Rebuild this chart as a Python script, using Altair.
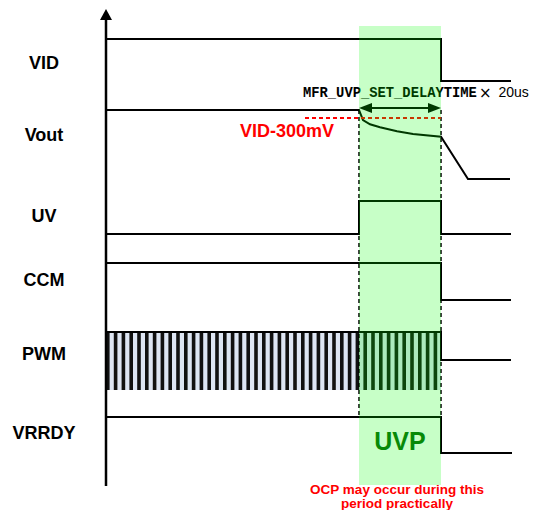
import altair as alt
import pandas as pd

# ---- signal labels ----
sig_names = ["VID", "Vout", "UV", "CCM", "PWM", "VRRDY"]
label_x = [44, 44, 44, 44, 44, 44]
label_y = [64, 136, 217, 281, 355, 434]

# ---- waveforms (time position, level) ----
vid_x = [106, 441, 441, 511]
vid_y = [39, 39, 81, 81]
vout_x = [106, 359, 363, 370, 380, 397, 413, 441, 468, 510]
vout_y = [110, 110, 120, 124.3, 127.3, 131.3, 134, 136.7, 179, 179]
uv_x = [106, 359, 359, 441, 441, 511]
uv_y = [234, 234, 201, 201, 234, 234]
ccm_x = [106, 441, 441, 511]
ccm_y = [263, 263, 300, 300]
pwm_x = [106, 441, 441, 511]
pwm_y = [332, 332, 360, 360]
vrrdy_x = [106, 441, 441, 512]
vrrdy_y = [417, 417, 453, 453]

# ---- events ----
t_fault = 359
t_uvp = 441
band_top, band_bottom = 26, 485
pwm_block = [106, 441, 332, 390]   # x, x2, y, y2
axis_x, axis_top, axis_bottom = 106, 9, 486
dash_top, dash_bottom = 110, 417
thr_y, thr_x0 = 118, 305
arrow_y = 108

xs = alt.Scale(domain=[8, 530], nice=False, zero=False)
ys = alt.Scale(domain=[8, 510], nice=False, zero=False, reverse=True)


def X(f):
    return alt.X(f, type="quantitative", scale=xs, axis=None)


def Y(f):
    return alt.Y(f, type="quantitative", scale=ys, axis=None)


rows = []
for name, xx, yy in [("VID", vid_x, vid_y), ("Vout", vout_x, vout_y),
                     ("UV", uv_x, uv_y), ("CCM", ccm_x, ccm_y),
                     ("PWM", pwm_x, pwm_y), ("VRRDY", vrrdy_x, vrrdy_y)]:
    for i, (a, b) in enumerate(zip(xx, yy)):
        rows.append({"sig": name, "i": i, "x": a, "y": b})
wave_df = pd.DataFrame(rows)

# PWM striped block
pwm_bg = alt.Chart(pd.DataFrame([{"x": pwm_block[0], "x2": pwm_block[1],
                                  "y": pwm_block[2], "y2": pwm_block[3]}])).mark_rect(
    color="#dde5f3").encode(x=X("x"), x2="x2", y=Y("y"), y2="y2")
pwm_stripes = alt.Chart(pd.DataFrame([{"x": pwm_block[0], "x2": pwm_block[1],
                                       "y": (pwm_block[2] + pwm_block[3]) / 2}])).mark_rule(
    color="#111111", strokeWidth=pwm_block[3] - pwm_block[2], strokeDash=[3.6, 4.2],
    strokeCap="butt").encode(x=X("x"), x2="x2", y=Y("y"))

waves = alt.Chart(wave_df).mark_line(color="black", strokeWidth=2, interpolate="linear").encode(
    x=X("x"), y=Y("y"), detail="sig:N", order="i:Q")

dashed = alt.Chart(pd.DataFrame([{"x": t_fault, "y": dash_top, "y2": dash_bottom},
                                 {"x": t_uvp, "y": dash_top, "y2": dash_bottom}])).mark_rule(
    color="black", strokeWidth=1.5, strokeDash=[4, 3]).encode(x=X("x"), y=Y("y"), y2="y2")

thr = alt.Chart(pd.DataFrame([{"x": thr_x0, "x2": t_uvp, "y": thr_y}])).mark_rule(
    color="#ff0000", strokeWidth=2, strokeDash=[4, 3]).encode(x=X("x"), x2="x2", y=Y("y"))

arrow_line = alt.Chart(pd.DataFrame([{"x": t_fault + 6, "x2": t_uvp - 6, "y": arrow_y}])).mark_rule(
    color="black", strokeWidth=2).encode(x=X("x"), x2="x2", y=Y("y"))
head_r = alt.Chart(pd.DataFrame([{"x": t_uvp, "y": arrow_y}])).mark_point(
    shape="M0,0L-2,-0.77L-2,0.77Z", size=169, filled=True, color="black", opacity=1,
    strokeWidth=0).encode(x=X("x"), y=Y("y"))
head_l = alt.Chart(pd.DataFrame([{"x": t_fault, "y": arrow_y}])).mark_point(
    shape="M0,0L2,-0.77L2,0.77Z", size=169, filled=True, color="black", opacity=1,
    strokeWidth=0).encode(x=X("x"), y=Y("y"))

mfr_text = alt.Chart(pd.DataFrame([{"x": 303, "y": 93, "t": "MFR_UVP_SET_DELAYTIME"}])).mark_text(
    font="Liberation Mono", fontWeight="bold", fontSize=13.8, align="left", baseline="middle",
    color="black").encode(x=X("x"), y=Y("y"), text="t:N")
times_text = alt.Chart(pd.DataFrame([{"x": 479, "y": 93, "t": "×"}])).mark_text(
    font="DejaVu Sans", fontSize=15, align="left", baseline="middle",
    color="black").encode(x=X("x"), y=Y("y"), text="t:N")
us_text = alt.Chart(pd.DataFrame([{"x": 498.5, "y": 93, "t": "20us"}])).mark_text(
    font="Liberation Sans", fontSize=14, align="left", baseline="middle",
    color="black").encode(x=X("x"), y=Y("y"), text="t:N")

band = alt.Chart(pd.DataFrame([{"x": t_fault, "x2": t_uvp, "y": band_top, "y2": band_bottom}])).mark_rect(
    color="#00ff00", opacity=0.22).encode(x=X("x"), x2="x2", y=Y("y"), y2="y2")

axis_line = alt.Chart(pd.DataFrame([{"x": axis_x, "y": axis_top + 8, "y2": axis_bottom}])).mark_rule(
    color="black", strokeWidth=2.5).encode(x=X("x"), y=Y("y"), y2="y2")
axis_head = alt.Chart(pd.DataFrame([{"x": axis_x, "y": axis_top}])).mark_point(
    shape="M0,0L-1.09,2L1.09,2Z", size=121, filled=True, color="black", opacity=1,
    strokeWidth=0).encode(x=X("x"), y=Y("y"))

labels = alt.Chart(pd.DataFrame({"x": label_x, "y": label_y, "t": sig_names})).mark_text(
    font="Liberation Sans", fontWeight="bold", fontSize=18, align="center", baseline="middle",
    color="black").encode(x=X("x"), y=Y("y"), text="t:N")

vid300 = alt.Chart(pd.DataFrame([{"x": 287, "y": 132, "t": "VID-300mV"}])).mark_text(
    font="Liberation Sans", fontWeight="bold", fontSize=18, align="center", baseline="middle",
    color="#ff0000").encode(x=X("x"), y=Y("y"), text="t:N")

uvp = alt.Chart(pd.DataFrame([{"x": 400, "y": 442, "t": "UVP"}])).mark_text(
    font="Liberation Sans", fontWeight="bold", fontSize=25, align="center", baseline="middle",
    color="#078a07").encode(x=X("x"), y=Y("y"), text="t:N")

ocp = alt.Chart(pd.DataFrame({"x": [397, 397], "y": [490, 504],
                              "t": ["OCP may occur during this", "period practically"]})).mark_text(
    font="Liberation Sans", fontWeight="bold", fontSize=13.5, align="center", baseline="middle",
    color="#ff0000").encode(x=X("x"), y=Y("y"), text="t:N")

chart = alt.layer(
    pwm_bg, pwm_stripes, waves, dashed, thr, arrow_line, head_r, head_l,
    mfr_text, times_text, us_text, band, axis_line, axis_head, labels, vid300, uvp, ocp
).properties(width=522, height=502, padding=0, autosize="none", background="white"
).configure_view(stroke=None)

chart.save("out.html", embed_options={"renderer": "svg", "actions": False})
